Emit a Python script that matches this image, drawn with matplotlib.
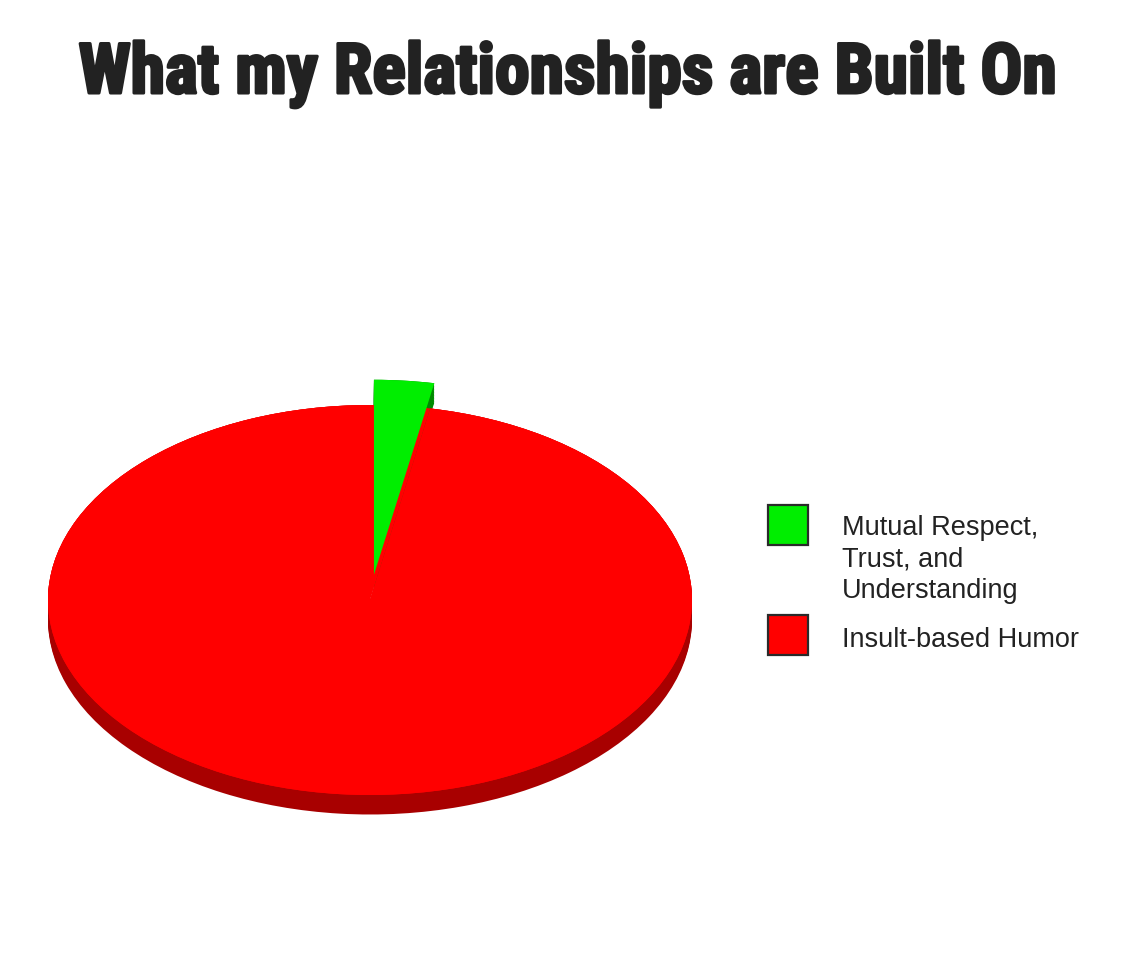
"""Recreate the 'What my Relationships are Built On' pie chart."""

import matplotlib

matplotlib.use("Agg")
import matplotlib.patheffects as pe
import matplotlib.pyplot as plt
import numpy as np
from matplotlib import font_manager
from matplotlib.patches import Rectangle

W, H = 1133, 960

TITLE = "What my Relationships are Built On"
labels = ["Mutual Respect,\nTrust, and\nUnderstanding", "Insult-based Humor"]
values = [3, 97]
top_colors = ["#00ee00", "#ff0000"]
side_colors = ["#008a00", "#a80000"]
explode = [0.13, 0.0]


def px(x, y):
    """Pixel position (from top-left) to figure fraction."""
    return x / W, 1 - y / H


def pick_title_font():
    """Find a narrow bold family if one is installed, else a plain bold one."""
    fonts = font_manager.fontManager.ttflist
    names = {f.name for f in fonts}
    for name in ["Liberation Sans Narrow", "Roboto Condensed",
                 "Open Sans Condensed", "DejaVu Sans Condensed"]:
        if name in names:
            return dict(family=[name, "DejaVu Sans"])
    for f in fonts:
        if f.name == "DejaVu Sans" and f.stretch == "condensed":
            return dict(family=["DejaVu Sans"], fontstretch="condensed")
    for name in ["Roboto", "Liberation Sans"]:
        if name in names:
            return dict(family=[name, "DejaVu Sans"])
    return dict(family=["DejaVu Sans"])


def main() -> None:
    fig = plt.figure(figsize=(W / 100, H / 100), dpi=100)
    fig.patch.set_facecolor("white")

    # pie ellipse: centre (370, 600) px, semi-axes 322 x 195 px
    cx, cy, a, b = 370, 600, 322, 195
    xpad, ypad = 1.05, 1.35
    ax = fig.add_axes([
        (cx - a * xpad) / W,
        (H - cy - b * ypad) / H,
        2 * a * xpad / W,
        2 * b * ypad / H,
    ])

    wp = dict(linewidth=0, antialiased=True)
    # extruded side: stack of darker pies shifted downwards
    for off in np.linspace(0.1, 0.0, 14):
        ax.pie(values, colors=side_colors, startangle=90, counterclock=False,
               explode=explode, center=(0, -off), frame=False, wedgeprops=wp)
    # cut face seen through the gap left by the pulled-out slice
    ax.pie(values, colors=[top_colors[1]] * len(values), startangle=90,
           counterclock=False, frame=False, wedgeprops=wp)
    ax.pie(values, colors=top_colors, startangle=90, counterclock=False,
           explode=explode, frame=False, wedgeprops=wp)

    ax.set_aspect("auto")
    ax.set_xlim(-xpad, xpad)
    ax.set_ylim(-ypad, ypad)
    ax.axis("off")

    title = fig.text(*px(568, 93), TITLE, ha="center", va="baseline",
                     fontsize=51, fontweight="bold", color="#222222",
                     path_effects=[pe.withStroke(linewidth=2.2,
                                                 foreground="#222222")],
                     **pick_title_font())
    fig.canvas.draw()
    width = title.get_window_extent().width
    title.set_fontsize(min(56, 51 * 980 / width))

    # legend drawn by hand so squares sit beside the first text line
    box_tops = [505, 615]
    baselines = [535, 647]
    for label, color, top, base in zip(labels, top_colors, box_tops, baselines):
        x0, y0 = px(768, top + 40)
        fig.add_artist(Rectangle((x0, y0), 40 / W, 40 / H,
                                 transform=fig.transFigure, facecolor=color,
                                 edgecolor="#2a2a2a", linewidth=1.6))
        for i, line in enumerate(label.split("\n")):
            fig.text(*px(842, base + 31.5 * i), line, ha="left",
                     va="baseline", fontsize=19.5, color="#222222",
                     family=["Liberation Sans", "DejaVu Sans"])

    fig.savefig("out.png", dpi=100, facecolor="white")


if __name__ == "__main__":
    main()
